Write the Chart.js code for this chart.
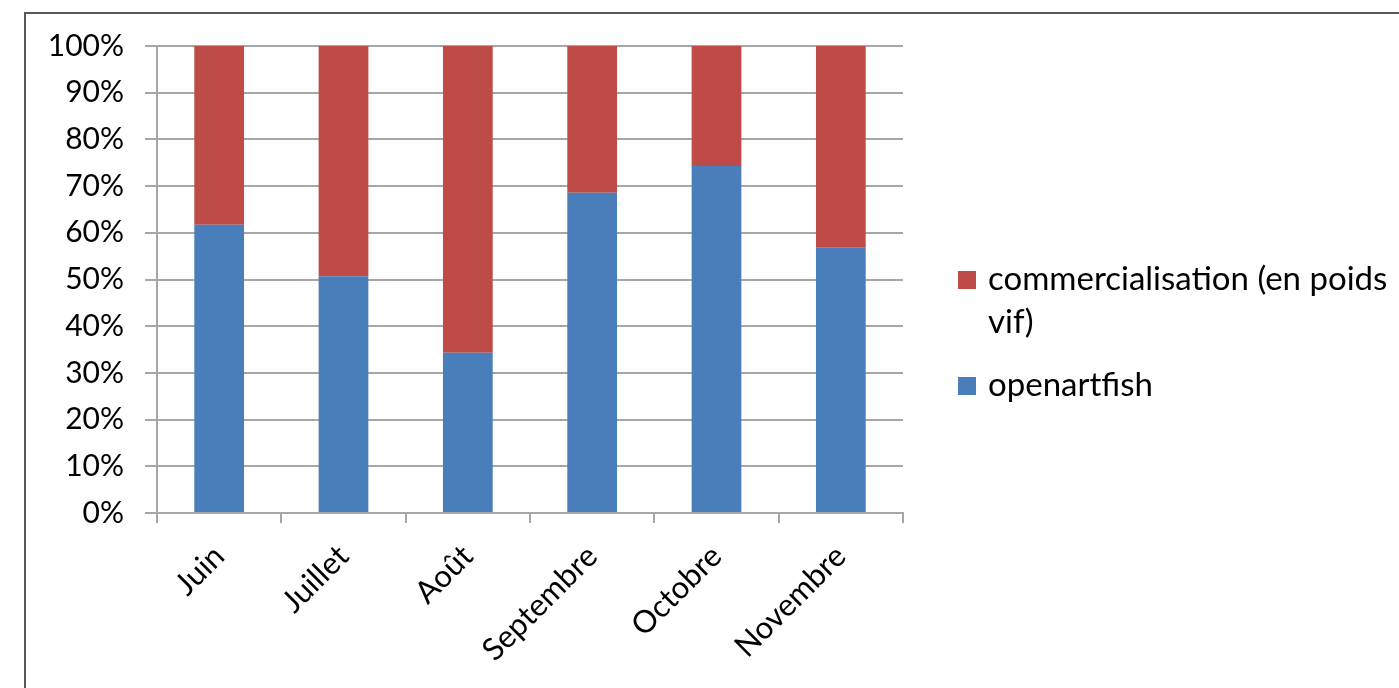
<!DOCTYPE html>
<html><head><meta charset="utf-8">
<script src="https://cdn.jsdelivr.net/npm/chart.js@4"></script>
<style>
html,body{margin:0;padding:0;background:#fff;overflow:hidden;width:1399px;height:688px}
#frame{position:absolute;left:24px;top:12px;width:1500px;height:800px;border:2px solid #595959;box-sizing:border-box}
#c{position:absolute;left:0;top:0}
</style></head><body>
<div id="frame"></div>
<canvas id="c" width="1399" height="688"></canvas>
<script>
const categories = ['Juin', 'Juillet', 'Août', 'Septembre', 'Octobre', 'Novembre'];
const openartfish = [61.7, 50.7, 34.3, 68.6, 74.3, 56.8];
const commercialisation = [38.3, 49.3, 65.7, 31.4, 25.7, 43.2];
const seriesNames = ['openartfish', 'commercialisation (en poids vif)'];

const FONT = 'Lato';
const GRID = '#a6a6a6';

const legendPlugin = {
  id: 'sideLegend',
  afterDraw(chart) {
    const ctx = chart.ctx;
    ctx.save();
    ctx.font = '33px ' + FONT;
    ctx.fillStyle = '#000';
    ctx.textBaseline = 'alphabetic';
    ctx.textAlign = 'left';
    const items = chart.data.datasets.slice().reverse();
    const boxX = 958, textX = 988, maxW = 408, lineH = 43;
    let y = 290; // baseline of first line
    items.forEach((ds) => {
      const words = ds.label.split(' ');
      const lines = [];
      let cur = '';
      words.forEach(w => {
        const t = cur ? cur + ' ' + w : w;
        if (ctx.measureText(t).width > maxW && cur) { lines.push(cur); cur = w; } else cur = t;
      });
      lines.push(cur);
      ctx.fillStyle = ds.backgroundColor;
      ctx.fillRect(boxX, y - 19, 18, 18);
      ctx.fillStyle = '#000';
      lines.forEach((l, k) => ctx.fillText(l, textX, y + k * lineH));
      y += (lines.length - 1) * lineH + 63;
    });
    ctx.restore();
  }
};

new Chart(document.getElementById('c'), {
  type: 'bar',
  data: {
    labels: categories,
    datasets: [
      { label: seriesNames[0], data: openartfish, backgroundColor: '#4a7ebb', barPercentage: 0.4, categoryPercentage: 1 },
      { label: seriesNames[1], data: commercialisation, backgroundColor: '#be4b48', barPercentage: 0.4, categoryPercentage: 1 }
    ]
  },
  options: {
    responsive: false,
    animation: false,
    layout: { padding: { left: 0, top: 46, right: 496, bottom: 0 } },
    plugins: { legend: { display: false }, tooltip: { enabled: false } },
    scales: {
      x: {
        stacked: true,
        afterFit(s) { s.height = 175; },
        grid: { drawOnChartArea: false, drawTicks: true, tickLength: 10, offset: true, color: GRID, lineWidth: 2 },
        border: { color: GRID, width: 2 },
        ticks: { font: { family: FONT, size: 31 }, color: '#000', maxRotation: 45, minRotation: 45, autoSkip: false, padding: 15 }
      },
      y: {
        stacked: true,
        min: 0, max: 100,
        afterFit(s) { s.width = 157; },
        grid: { color: GRID, lineWidth: 2, tickLength: 12 },
        border: { color: GRID, width: 2 },
        ticks: { stepSize: 10, font: { family: FONT, size: 30 }, color: '#000', padding: 21, callback: v => v + '%' }
      }
    }
  },
  plugins: [legendPlugin]
});
</script>
</body></html>
